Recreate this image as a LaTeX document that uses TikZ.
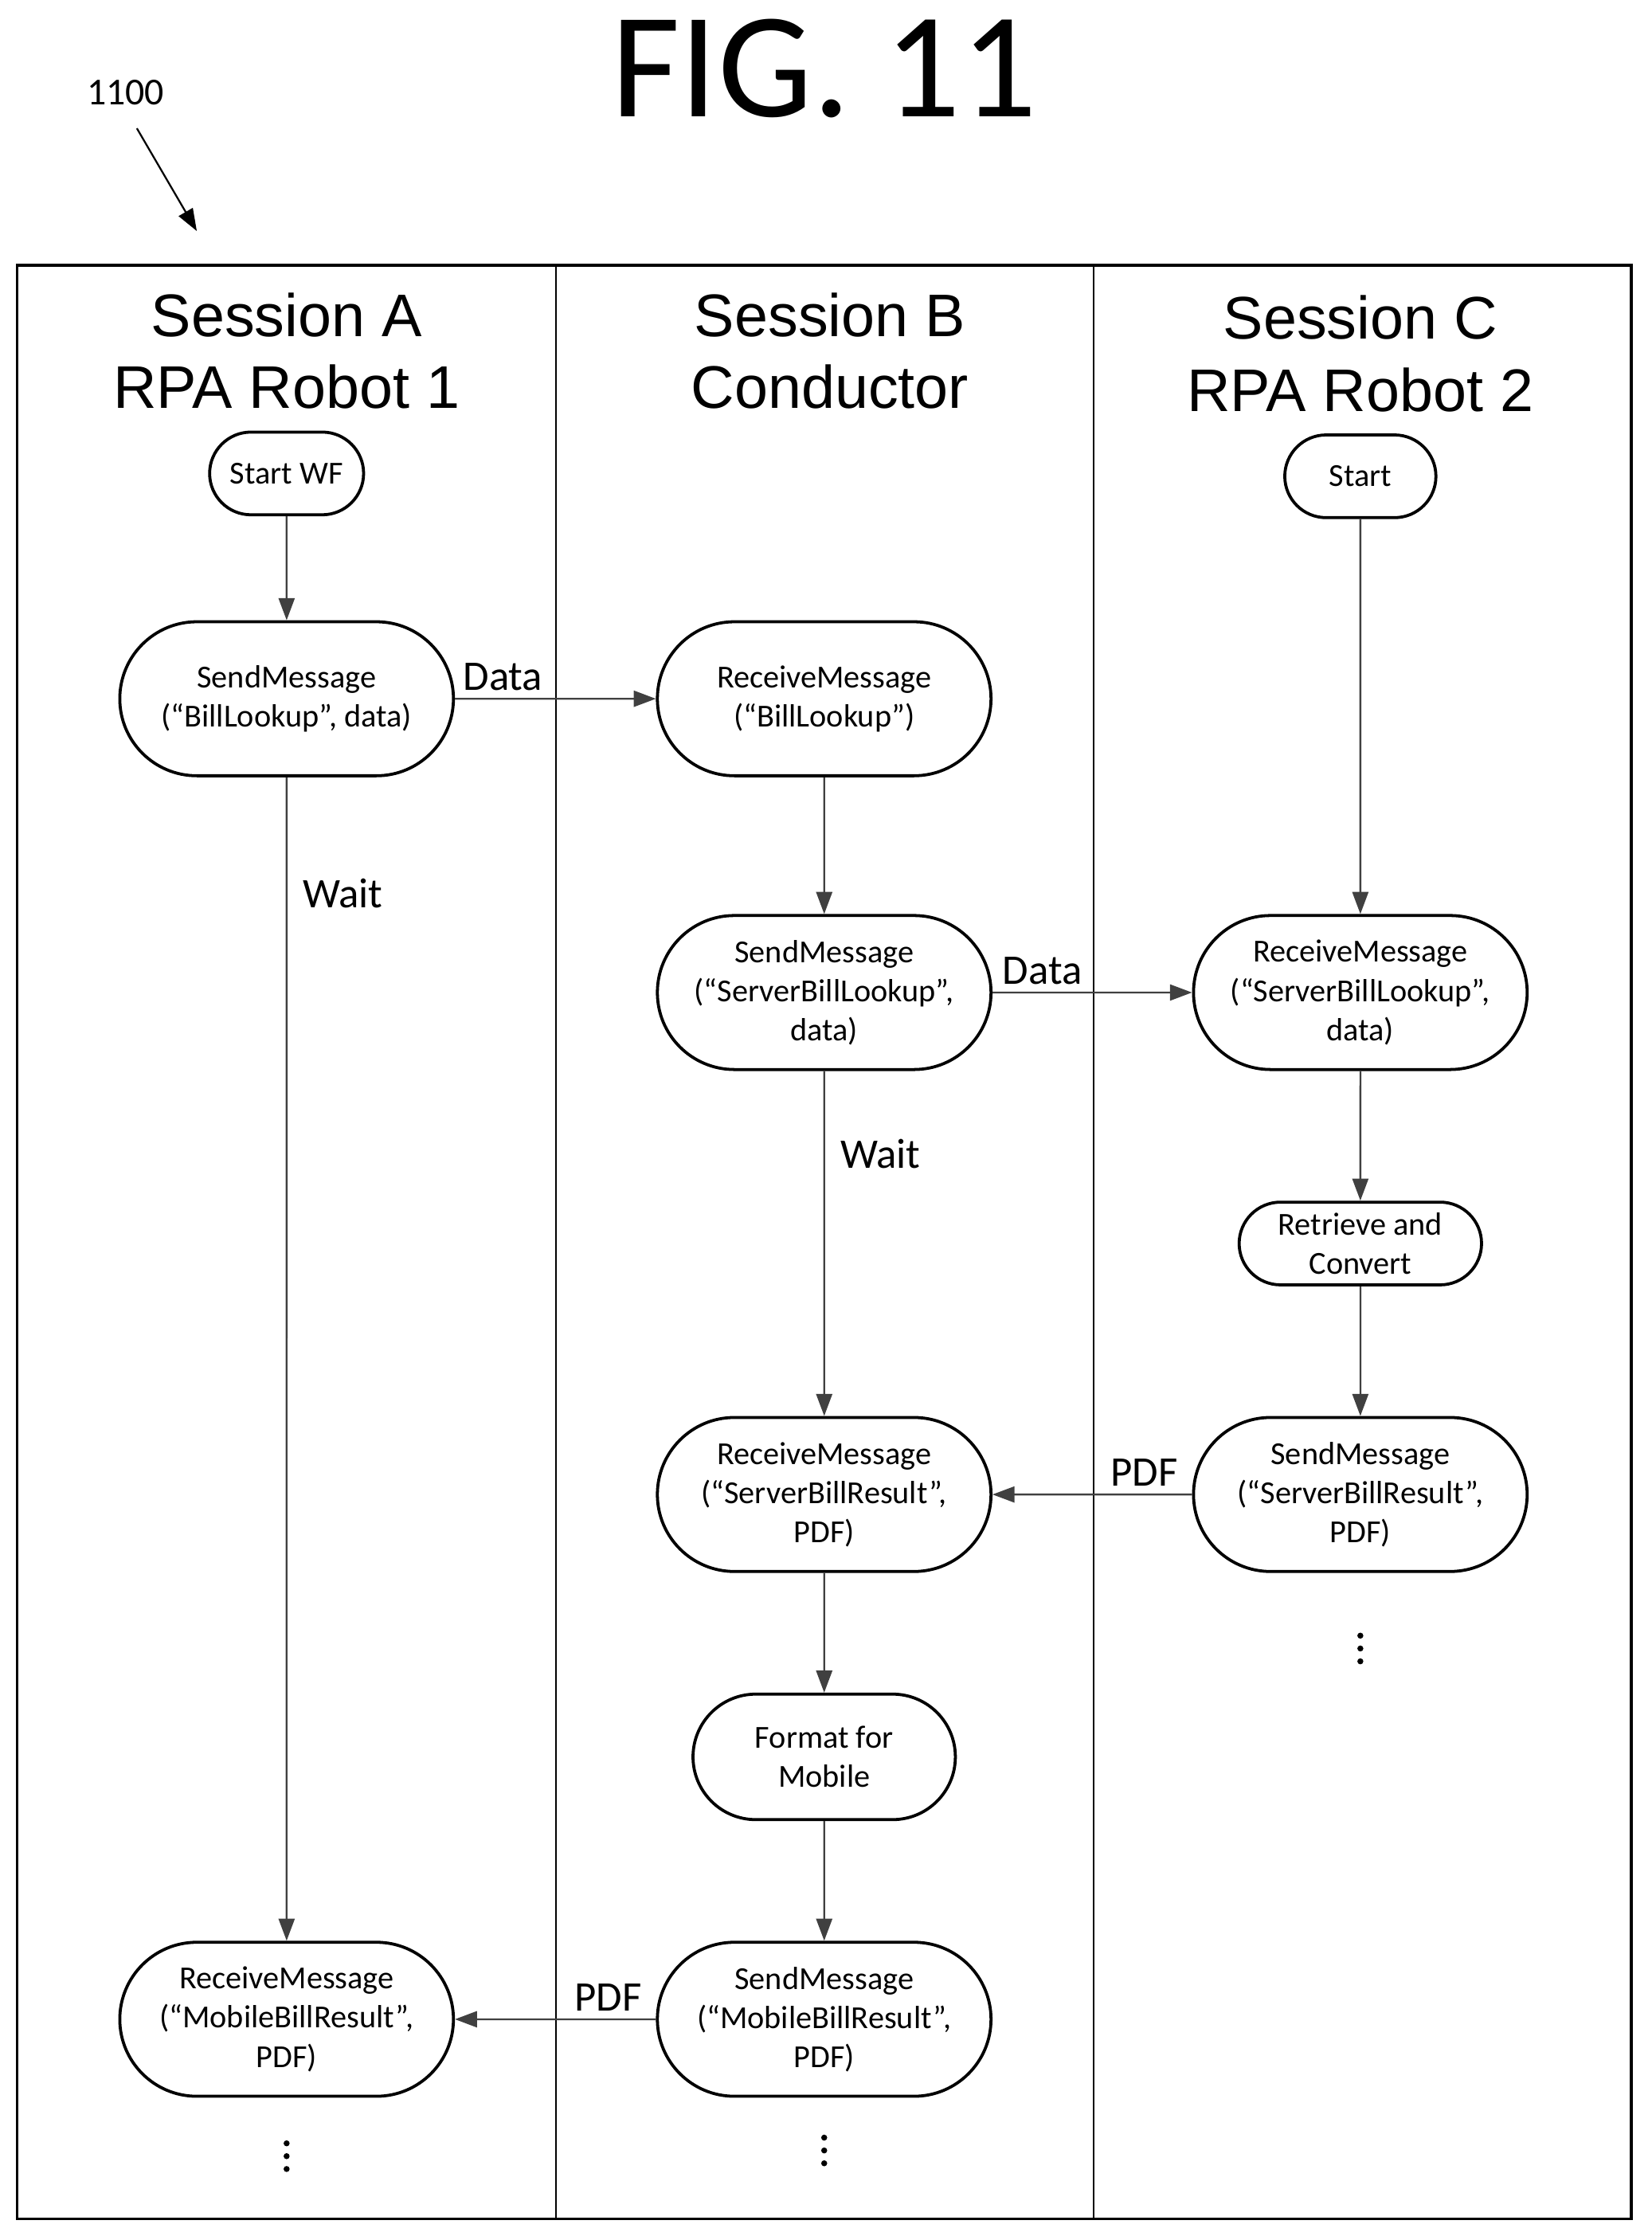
\documentclass[tikz,border=0pt]{standalone}
\usepackage{fontspec}
\setmainfont{Carlito}
\newfontfamily\hdr{Liberation Sans}
\usetikzlibrary{shapes.misc,arrows.meta}
\begin{document}
\begin{tikzpicture}[x=0.05cm,y=-0.05cm,
 box/.style={draw,line width=3pt,rounded rectangle,align=center,font=\fontsize{32}{39}\selectfont,inner sep=0pt},
 big/.style={box,minimum width=11.7cm,minimum height=5.4cm},
 arr/.style={draw=black!75,line width=1.8pt,-{Triangle[length=22pt,width=16pt]}},
 lab/.style={font=\fontsize{42}{42}\selectfont},
 head/.style={align=center,font=\hdr\fontsize{60}{72}\selectfont},
 dot/.style={fill,circle,inner sep=0pt,minimum size=6pt}]
\useasboundingbox (0,0) rectangle (1158,1568);
\node[font=\fontsize{150}{150}\selectfont] (fig) at (578,48) {FIG. 11};
\node[font=\fontsize{38}{38}\selectfont] (num) at (88,65) {1100};
\coordinate (ta) at (96,90); \coordinate (tb) at (138,162);
\draw[line width=1.8pt,-{Triangle[length=22pt,width=16pt]}] (ta) -- (tb);
\draw[line width=3pt] (12,186) rectangle (1144,1556);
\draw[line width=2pt] (390,186) -- (390,1556) (767,186) -- (767,1556);
\node[head] (ha) at (201,246) {Session A\\RPA Robot 1};
\node[head] (hb) at (582,246) {Session B\\Conductor};
\node[head] (hc) at (954,248) {Session C\\RPA Robot 2};
\node[box,minimum width=5.4cm,minimum height=2.9cm] (sa) at (201,332) {Start WF};
\node[big] (sendA) at (201,490) {SendMessage\\(“BillLookup”, data)};
\node[big] (recvB1) at (578,490) {ReceiveMessage\\(“BillLookup”)};
\node[big] (sendB) at (578,696) {SendMessage\\(“ServerBillLookup”,\\data)};
\node[box,minimum width=5.3cm,minimum height=2.9cm] (sc) at (954,334) {Start};
\node[big] (recvC) at (954,696) {ReceiveMessage\\(“ServerBillLookup”,\\data)};
\node[box,minimum width=8.5cm,minimum height=2.9cm] (ret) at (954,872) {Retrieve and\\Convert};
\node[big] (sendC) at (954,1048) {SendMessage\\(“ServerBillResult”,\\PDF)};
\node[big] (recvB2) at (578,1048) {ReceiveMessage\\(“ServerBillResult”,\\PDF)};
\node[box,minimum width=9.2cm,minimum height=4.4cm] (fmt) at (578,1232) {Format for\\Mobile};
\node[big] (sendB2) at (578,1416) {SendMessage\\(“MobileBillResult”,\\PDF)};
\node[big] (recvA) at (201,1416) {ReceiveMessage\\(“MobileBillResult”,\\PDF)};
\foreach \n/\x/\y in {a/201/1512,b/578/1508,c/954/1156}{
  \node[dot] (\n1) at (\x,\y-9) {}; \node[dot] (\n2) at (\x,\y) {}; \node[dot] (\n3) at (\x,\y+9) {};}
\draw[arr] (sa) -- (sendA);
\draw[arr] (sendA) -- node[lab,pos=0,anchor=south west,xshift=4pt,yshift=4pt] (l1) {Data} (recvB1);
\draw[arr] (sendA) -- node[lab,pos=0.1,anchor=west,xshift=12pt] (w1) {Wait} (recvA);
\draw[arr] (recvB1) -- (sendB);
\draw[arr] (sendB) -- node[lab,pos=0,anchor=south west,xshift=6pt,yshift=4pt] (l2) {Data} (recvC);
\draw[arr] (sendB) -- node[lab,pos=0.24,anchor=west,xshift=12pt] (w2) {Wait} (recvB2);
\draw[arr] (sc) -- (recvC);
\draw[arr] (recvC) -- (ret);
\draw[arr] (ret) -- (sendC);
\draw[arr] (sendC) -- node[lab,pos=0,anchor=south east,xshift=-10pt,yshift=4pt] (l3) {PDF} (recvB2);
\draw[arr] (recvB2) -- (fmt);
\draw[arr] (fmt) -- (sendB2);
\draw[arr] (sendB2) -- node[lab,pos=0,anchor=south east,xshift=-10pt,yshift=4pt] (l4) {PDF} (recvA);
\end{tikzpicture}
\end{document}
